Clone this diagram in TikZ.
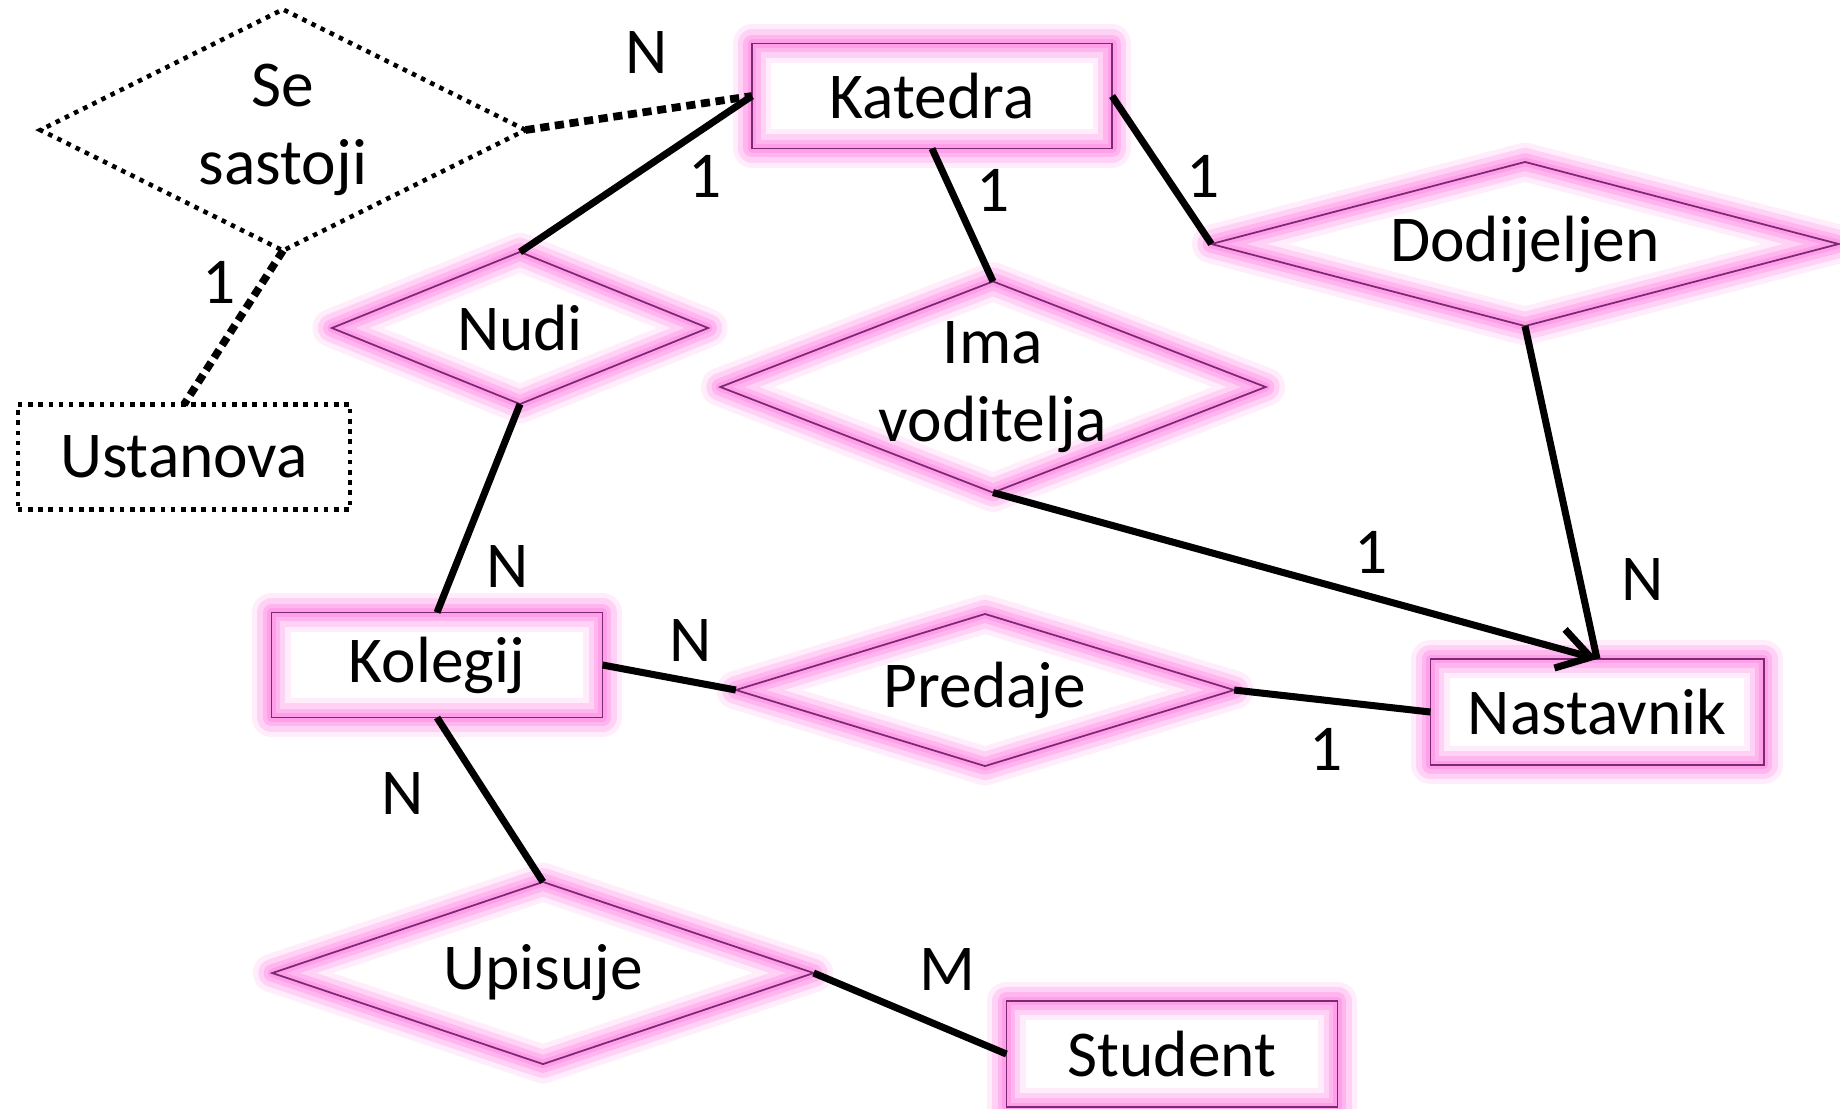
\documentclass[tikz,border=0pt]{standalone}
\usepackage{fontspec}
\setmainfont{Carlito}
\usetikzlibrary{shapes.geometric}
\usetikzlibrary{arrows.meta}
\definecolor{erglow}{RGB}{255,130,228}
\definecolor{eredge}{RGB}{122,42,112}
\newcommand{\entw}{3.31cm}
\newcommand{\enth}{1.05cm}
\newcommand{\lnw}{2pt}
\tikzset{
  glow/.style={
    preaction={draw=erglow, line width=11pt, draw opacity=0.14, line join=round},
    preaction={draw=erglow, line width=8pt, draw opacity=0.25, line join=round},
    preaction={draw=erglow, line width=5pt, draw opacity=0.35, line join=round},
    preaction={draw=erglow, line width=2.5pt, draw opacity=0.45, line join=round}},
  entity/.style={rectangle, glow, draw=eredge, line width=0.5pt,
    minimum width=\entw, minimum height=\enth, outer sep=0pt},
  relation/.style={diamond, glow, draw=eredge, line width=0.5pt,
    inner sep=0pt, outer sep=0pt, align=center},
  weakent/.style={rectangle, draw=black, line width=1.3pt,
    dash pattern=on 1.3pt off 1.6pt, minimum width=\entw, minimum height=\enth,
    outer sep=0pt},
  weakrel/.style={diamond, draw=black, line width=1.3pt,
    dash pattern=on 1.3pt off 1.6pt, inner sep=0pt, outer sep=0pt, align=center},
  link/.style={draw, line width=\lnw},
  weaklink/.style={draw, line width=2.2pt, dash pattern=on 2.6pt off 1.6pt},
  card/.style={inner sep=0pt}
}

\begin{document}
\begin{tikzpicture}[x=0.01cm, y=-0.01cm, font=\fontsize{18.6}{22.3}\selectfont]
    \useasboundingbox (0, 0) rectangle (1840, 1108);

    \node (katedra) at (932, 96) [entity, minimum width=3.6cm] {Katedra};
    \node (ustanova) at (184, 457) [weakent, minimum width=3.32cm] {Ustanova};
    \node (kolegij) at (437, 665) [entity] {Kolegij};
    \node (nastavnik) at (1597, 712) [entity, minimum width=3.33cm,
      minimum height=1.06cm] {Nastavnik};
    \node (student) at (1172, 1054) [entity, minimum height=1.06cm] {Student};

    \node (sesastoji) at (283, 130) [weakrel, aspect=2.01, minimum width=4.85cm,
      minimum height=2.41cm] {Se\\sastoji};
    \node (dodijeljen) at (1525, 244) [relation, aspect=3.82, minimum width=6.27cm,
      minimum height=1.64cm] {Dodijeljen};
    \node (ima) at (993, 387) [relation, aspect=2.58, inner ysep=-0.3cm,
      minimum width=5.45cm, minimum height=2.11cm] {Ima\\voditelja};
    \node (nudi) at (520, 328) [relation, aspect=2.47, minimum width=3.76cm,
      minimum height=1.52cm] {Nudi};
    \node (predaje) at (985, 690) [relation, aspect=3.28, minimum width=4.98cm,
      minimum height=1.52cm] {Predaje};
    \node (upisuje) at (543, 973) [relation, aspect=2.97, minimum width=5.41cm,
      minimum height=1.82cm] {Upisuje};

    \draw [weaklink] (sesastoji.east) -- (katedra.west);
    \draw [weaklink] (sesastoji.south) -- (ustanova.north);
    \draw [link] (katedra.west) -- (nudi.north);
    \draw [link] (katedra.south) -- (ima.north);
    \draw [link] (katedra.east) -- (dodijeljen.west);
    \draw [link] (dodijeljen.south) -- (nastavnik.north);
    \draw [link, -{Straight Barb[length=3.2mm, width=4mm]}]
      (ima.south) -- (nastavnik.north);
    \draw [link] (nudi.south) -- (kolegij.north);
    \draw [link] (kolegij.east) -- (predaje.west);
    \draw [link] (predaje.east) -- (nastavnik.west);
    \draw [link] (kolegij.south) -- (upisuje.north);
    \draw [link] (upisuje.east) -- (student.west);

    \node (cardsk) at (647, 53) [card] {N};
    \node (cardkn) at (705, 176) [card] {1};
    \node (cardsu) at (219, 282) [card] {1};
    \node (cardki) at (993, 190) [card] {1};
    \node (cardkd) at (1203, 176) [card] {1};
    \node (cardnk) at (508, 566) [card] {N};
    \node (cardin) at (1371, 552) [card] {1};
    \node (carddn) at (1643, 579) [card] {N};
    \node (cardkp) at (691, 640) [card] {N};
    \node (cardpn) at (1326, 749) [card] {1};
    \node (cardku) at (403, 793) [card] {N};
    \node (cardus) at (947, 969) [card] {M};
  \end{tikzpicture}
\end{document}
